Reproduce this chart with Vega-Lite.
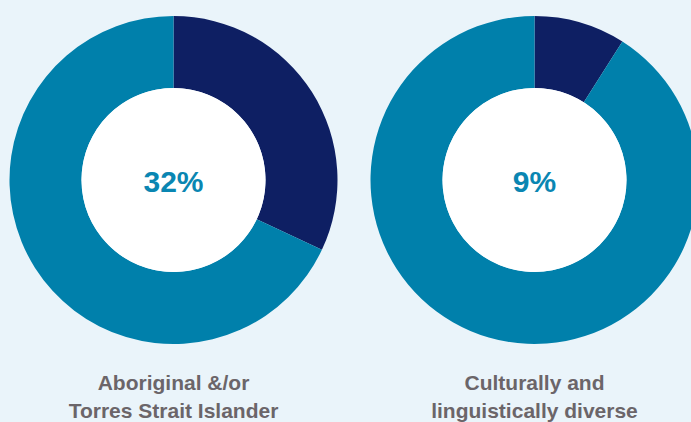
{
  "$schema": "https://vega.github.io/schema/vega-lite/v6.json",
  "width": 691,
  "height": 422,
  "autosize": {"type": "none"},
  "padding": 0,
  "background": "#EAF4FA",
  "config": {"view": {"stroke": null}},
  "datasets": {
    "segments": [
      {"group": "Aboriginal &/or Torres Strait Islander", "row": "donut", "part": "Share", "start": 0, "end": 32},
      {"group": "Aboriginal &/or Torres Strait Islander", "row": "donut", "part": "Other", "start": 32, "end": 100},
      {"group": "Culturally and linguistically diverse", "row": "donut", "part": "Share", "start": 0, "end": 9},
      {"group": "Culturally and linguistically diverse", "row": "donut", "part": "Other", "start": 9, "end": 100}
    ],
    "labels": [
      {"group": "Aboriginal &/or Torres Strait Islander", "row": "donut", "pct": "32%", "lrow": "label", "label": "Aboriginal &/or\nTorres Strait Islander"},
      {"group": "Culturally and linguistically diverse", "row": "donut", "pct": "9%", "lrow": "label", "label": "Culturally and\nlinguistically diverse"}
    ]
  },
  "layer": [
    {
      "data": {"name": "segments"},
      "mark": {"type": "arc", "outerRadius": 164, "innerRadius": 92, "stroke": null},
      "encoding": {
        "x": {"field": "group", "type": "nominal", "axis": null, "scale": {"type": "point", "padding": 0, "range": [173.5, 534.5], "domain": ["Aboriginal &/or Torres Strait Islander", "Culturally and linguistically diverse"]}},
        "y": {"field": "row", "type": "nominal", "axis": null, "scale": {"type": "point", "padding": 0, "range": [180, 390], "domain": ["donut", "label"]}},
        "theta": {"field": "start", "type": "quantitative", "stack": null, "scale": {"domain": [0, 100], "range": [0, 6.283185307179586]}},
        "theta2": {"field": "end"},
        "color": {"field": "part", "type": "nominal", "legend": null, "scale": {"domain": ["Share", "Other"], "range": ["#0E1F63", "#0080AB"]}}
      }
    },
    {
      "data": {"name": "labels"},
      "mark": {"type": "arc", "outerRadius": 92, "innerRadius": 0, "color": "#FFFFFF", "theta": 0, "theta2": 6.283185307179586},
      "encoding": {
        "x": {"field": "group", "type": "nominal"},
        "y": {"field": "row", "type": "nominal"}
      }
    },
    {
      "data": {"name": "labels"},
      "mark": {"type": "text", "font": "Liberation Sans", "fontWeight": "bold", "fontSize": 30, "color": "#0A86B2", "align": "center", "baseline": "alphabetic", "dy": 12},
      "encoding": {
        "x": {"field": "group", "type": "nominal"},
        "y": {"field": "row", "type": "nominal"},
        "text": {"field": "pct"}
      }
    },
    {
      "data": {"name": "labels"},
      "mark": {"type": "text", "font": "Liberation Sans", "fontWeight": "bold", "fontSize": 21, "color": "#6B6569", "align": "center", "baseline": "alphabetic", "lineBreak": "\n", "lineHeight": 28},
      "encoding": {
        "x": {"field": "group", "type": "nominal"},
        "y": {"field": "lrow", "type": "nominal"},
        "text": {"field": "label"}
      }
    }
  ]
}
